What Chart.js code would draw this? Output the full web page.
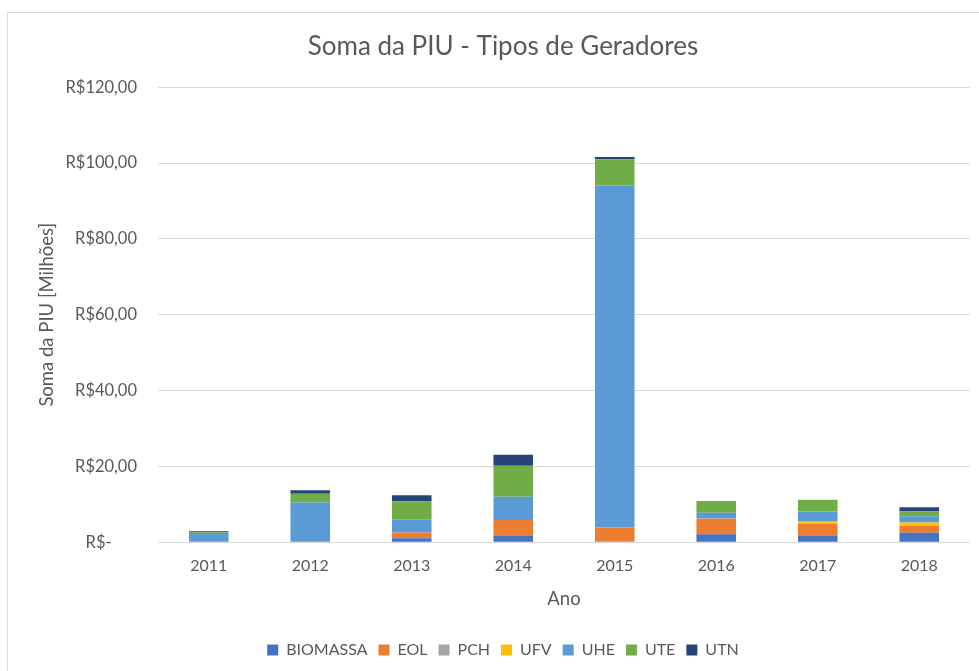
<!DOCTYPE html>
<html>
<head>
<meta charset="utf-8">
<script src="https://cdn.jsdelivr.net/npm/chart.js@4"></script>
<style>
html,body{margin:0;padding:0;background:#fff;}
#wrap{position:relative;width:979px;height:671px;}
</style>
</head>
<body>
<div id="wrap"><canvas id="c" width="979" height="671"></canvas></div>
<script>
const years = ['2011','2012','2013','2014','2015','2016','2017','2018'];
const biomassa = [0, 0, 1.1, 1.8, 0, 2.1, 1.8, 2.5];
const eol      = [0, 0, 1.5, 4.1, 3.9, 4.1, 3.1, 1.8];
const pch      = [0, 0, 0, 0, 0, 0.1, 0.1, 0.1];
const ufv      = [0, 0, 0, 0, 0, 0, 0.6, 0.8];
const uhe      = [2.2, 10.5, 3.5, 6.1, 90.2, 1.5, 2.5, 1.7];
const ute      = [0.4, 2.3, 4.7, 8.2, 6.9, 3.1, 3.1, 1.3];
const utn      = [0.3, 0.9, 1.6, 2.9, 0.6, 0, 0, 1.05];
const yTicks = [0, 20, 40, 60, 80, 100, 120];

const FONT = 'Lato';
const TXT = '#595959';

const frame = {
  id: 'frame',
  beforeDraw(chart) {
    const ctx = chart.ctx;
    ctx.save();
    ctx.fillStyle = '#fff';
    ctx.fillRect(0, 0, chart.width, chart.height);
    ctx.strokeStyle = '#d9d9d9';
    ctx.lineWidth = 1;
    ctx.strokeRect(7.5, 12.5, 1200, 1200);
    ctx.restore();
  }
};

function ds(label, data, color) {
  return { label, data, backgroundColor: color, borderWidth: 0 };
}

new Chart(document.getElementById('c'), {
  type: 'bar',
  data: {
    labels: years,
    datasets: [
      ds('BIOMASSA', biomassa, '#4472C4'),
      ds('EOL', eol, '#ED7D31'),
      ds('PCH', pch, '#A5A5A5'),
      ds('UFV', ufv, '#FFC000'),
      ds('UHE', uhe, '#5B9BD5'),
      ds('UTE', ute, '#70AD47'),
      ds('UTN', utn, '#264478')
    ]
  },
  options: {
    responsive: false,
    animation: false,
    devicePixelRatio: 1,
    datasets: { bar: { categoryPercentage: 1, barPercentage: 0.39 } },
    layout: { padding: { left: 36, right: 9, top: 12, bottom: 3 } },
    plugins: {
      title: {
        display: true,
        text: 'Soma da PIU - Tipos de Geradores',
        color: TXT,
        font: { family: FONT, size: 26, weight: 'normal' },
        padding: { top: 19, bottom: 25 }
      },
      legend: {
        position: 'bottom',
        labels: {
          color: TXT,
          font: { family: FONT, size: 16 },
          boxWidth: 11,
          boxHeight: 11,
          padding: 11
        }
      },
      tooltip: { enabled: false }
    },
    scales: {
      x: {
        stacked: true,
        grid: { display: false, drawTicks: false },
        border: { display: false },
        ticks: { color: TXT, font: { family: FONT, size: 16 }, padding: 14 },
        title: {
          display: true, text: 'Ano', color: TXT,
          font: { family: FONT, size: 18.5, lineHeight: 1 }, padding: { top: 0, bottom: 23 }
        }
      },
      y: {
        stacked: true,
        min: 0, max: 120,
        afterBuildTicks(scale) { scale.ticks = yTicks.map(v => ({ value: v })); },
        afterFit(scale) { scale.width = 122; },
        grid: { color: '#d9d9d9', drawTicks: false },
        border: { display: false },
        ticks: {
          color: TXT, font: { family: FONT, size: 16.5 }, padding: 21,
          callback: v => v === 0 ? 'R$-      ' : 'R$' + v + ',00'
        },
        title: {
          display: true, text: 'Soma da PIU [Milhões]', color: TXT,
          font: { family: FONT, size: 18.5 }, padding: { top: 0, bottom: 0 }
        }
      }
    }
  },
  plugins: [frame]
});
</script>
</body>
</html>
